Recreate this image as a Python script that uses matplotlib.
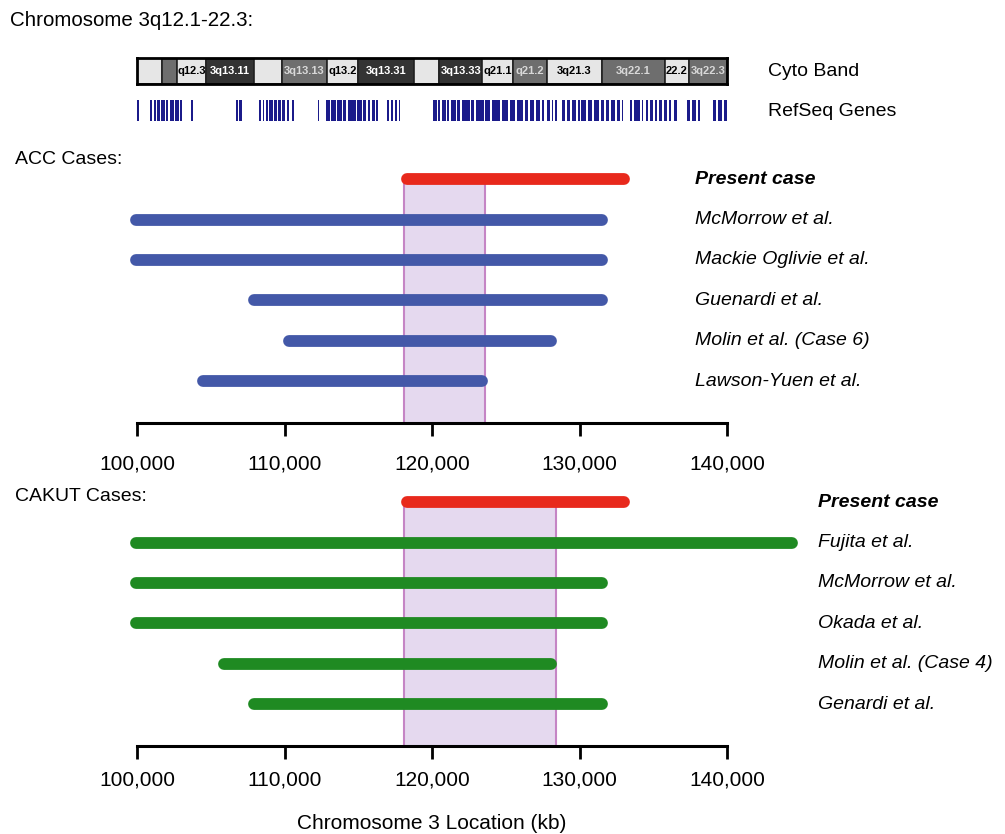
import numpy as np
import matplotlib
matplotlib.use("Agg")
import matplotlib.pyplot as plt
from matplotlib.patches import Rectangle
from matplotlib.ticker import FuncFormatter

plt.rcParams['font.family'] = ['Liberation Sans', 'DejaVu Sans']

# cytoband boundaries (kb) and names
band_edges = [100000, 101700, 102700, 104700, 107900, 109800, 112900, 115000, 118800,
              120500, 123400, 125500, 127800, 131500, 135800, 137400, 140000]
band_names = ['', '', 'q12.3', '3q13.11', '', '3q13.13', 'q13.2', '3q13.31', '',
              '3q13.33', 'q21.1', 'q21.2', '3q21.3', '3q22.1', '22.2', '3q22.3']
band_stain = ['l', 'm', 'l', 'd', 'l', 'm', 'l', 'd', 'l', 'd', 'l', 'm', 'l', 'm', 'l', 'm']

# RefSeq gene blocks (Mb)
gene_start = [100.00, 100.88, 101.15, 101.36, 101.63, 101.97, 102.24, 102.58, 102.92, 103.66,
              106.71, 106.92, 108.27, 108.54, 108.75, 108.95, 109.29, 109.56, 109.83, 110.17, 110.51,
              112.27, 112.81, 113.15, 113.56, 113.97, 114.31, 114.92, 115.32, 115.66, 115.93, 116.20,
              116.95, 117.22, 117.49, 117.76,
              120.07, 120.41, 120.68, 121.02, 121.29, 121.70, 122.04, 122.65, 122.98, 123.59, 124.07,
              124.75, 125.29, 125.76, 126.31, 126.64, 127.05, 127.46, 127.80, 128.14, 128.34,
              128.81, 129.15, 129.49, 129.90, 130.10, 130.58, 130.98, 131.46, 131.80, 132.14, 132.54,
              132.88, 133.43, 133.70, 134.24, 134.51, 134.78, 135.12, 135.39, 135.73, 136.07, 136.41,
              137.29, 137.63, 138.04, 139.05, 139.39, 139.80]
gene_end = [100.14, 101.02, 101.29, 101.56, 101.90, 102.10, 102.51, 102.85, 103.05, 103.80,
            106.85, 107.12, 108.41, 108.61, 108.88, 109.22, 109.49, 109.76, 110.03, 110.31, 110.64,
            112.34, 113.08, 113.49, 113.90, 114.17, 114.85, 115.25, 115.53, 115.80, 116.14, 116.34,
            117.09, 117.36, 117.63, 117.83,
            120.34, 120.54, 120.95, 121.15, 121.63, 121.90, 122.58, 122.85, 123.53, 123.93, 124.61,
            125.15, 125.63, 126.17, 126.51, 126.92, 127.32, 127.59, 128.00, 128.20, 128.48,
            129.02, 129.36, 129.76, 130.04, 130.44, 130.85, 131.32, 131.66, 132.00, 132.41, 132.75,
            132.95, 133.56, 134.10, 134.31, 134.65, 134.98, 135.26, 135.60, 135.93, 136.21, 136.61,
            137.49, 137.90, 138.17, 139.25, 139.66, 140.00]

# deletion intervals (kb)
acc_names = ['Present case', 'McMorrow et al.', 'Mackie Oglivie et al.', 'Guenardi et al.',
             'Molin et al. (Case 6)', 'Lawson-Yuen et al.']
acc_start = [118300, 99900, 99900, 107900, 110300, 104500]
acc_end = [133000, 131500, 131500, 131500, 128100, 123400]
acc_overlap = (118100, 123600)

cakut_names = ['Present case', 'Fujita et al.', 'McMorrow et al.', 'Okada et al.',
               'Molin et al. (Case 4)', 'Genardi et al.']
cakut_start = [118300, 99900, 99900, 99900, 105900, 107900]
cakut_end = [133000, 144400, 131500, 131500, 128100, 131500]
cakut_overlap = (118100, 128400)

W, H = 1005, 834
fig = plt.figure(figsize=(W / 100, H / 100), dpi=100)


def box(x0, y0, x1, y1):
    # pixel box (from top-left) -> figure fraction rect
    return [x0 / W, 1 - y1 / H, (x1 - x0) / W, (y1 - y0) / H]


XL, XR = 137, 727

fig.text(10 / W, 1 - 20 / H, 'Chromosome 3q12.1-22.3:', fontsize=14.8, va='center')

# cyto band
axc = fig.add_axes(box(XL, 58, XR, 84))
axc.set_xlim(100000, 140000)
axc.set_ylim(0, 1)
fills = {'l': '#e6e6e6', 'm': '#6e6e6e', 'd': '#333333'}
tcol = {'l': 'black', 'm': '#d8d8d8', 'd': 'white'}
for i, nm in enumerate(band_names):
    a, b = band_edges[i], band_edges[i + 1]
    st = band_stain[i]
    axc.add_patch(Rectangle((a, 0), b - a, 1, facecolor=fills[st], edgecolor='#222222', lw=1.2))
    if nm:
        axc.text((a + b) / 2, 0.5, nm, ha='center', va='center', fontsize=8,
                 fontweight='bold', color=tcol[st])
for s in axc.spines.values():
    s.set_linewidth(2)
axc.set_xticks([])
axc.set_yticks([])
fig.text(768 / W, 1 - 72 / H, 'Cyto Band', fontsize=14, va='center')

# genes
axg = fig.add_axes(box(XL, 100, XR, 121))
axg.set_xlim(100000, 140000)
axg.set_ylim(0, 1)
for a, b in zip(gene_start, gene_end):
    axg.add_patch(Rectangle((a * 1000, 0), (b - a) * 1000, 1, facecolor='#1b1b8a',
                            edgecolor='none'))
axg.axis('off')
fig.text(768 / W, 1 - 111 / H, 'RefSeq Genes', fontsize=14, va='center')

fmt = FuncFormatter(lambda v, p: f'{int(v):,}')


def panel(rect, names, starts, ends, overlap, color, label_x, title, title_y, pad):
    ax = fig.add_axes(rect)
    ax.set_xlim(100000, 140000)
    ax.set_ylim(6.04, -0.35)
    ax.fill_between(overlap, 0, 6.04, color='#e5d9ef', lw=0, zorder=1)
    ax.vlines(overlap, 0, 6.04, color='#c585c5', lw=1.5, zorder=1)
    for i, (nm, a, b) in enumerate(zip(names, starts, ends)):
        c = '#e8291c' if i == 0 else color
        ax.plot([a, b], [i, i], color=c, lw=8.5, solid_capstyle='round', zorder=3,
                clip_on=False)
        ax.text(label_x, i, nm, fontsize=14, va='center', style='italic',
                fontweight='bold' if i == 0 else 'normal')
    for s in ['top', 'right', 'left']:
        ax.spines[s].set_visible(False)
    ax.spines['bottom'].set_linewidth(2.2)
    ax.set_yticks([])
    ax.set_xticks(np.arange(100000, 140001, 10000))
    ax.xaxis.set_major_formatter(fmt)
    ax.tick_params(axis='x', length=9, width=2, labelsize=15, pad=pad)
    fig.text(15 / W, 1 - title_y / H, title, fontsize=14, va='center')
    return ax


panel(box(XL, 165, XR, 423), acc_names, acc_start, acc_end, acc_overlap, '#4358a8',
      137800, 'ACC Cases:', 160, 14)
ax2 = panel(box(XL, 488, XR, 746), cakut_names, cakut_start, cakut_end, cakut_overlap,
            '#1f8a22', 146200, 'CAKUT Cases:', 497, 9)
ax2.set_xlabel('Chromosome 3 Location (kb)', fontsize=15, labelpad=17)

fig.savefig('out.png', dpi=100)
